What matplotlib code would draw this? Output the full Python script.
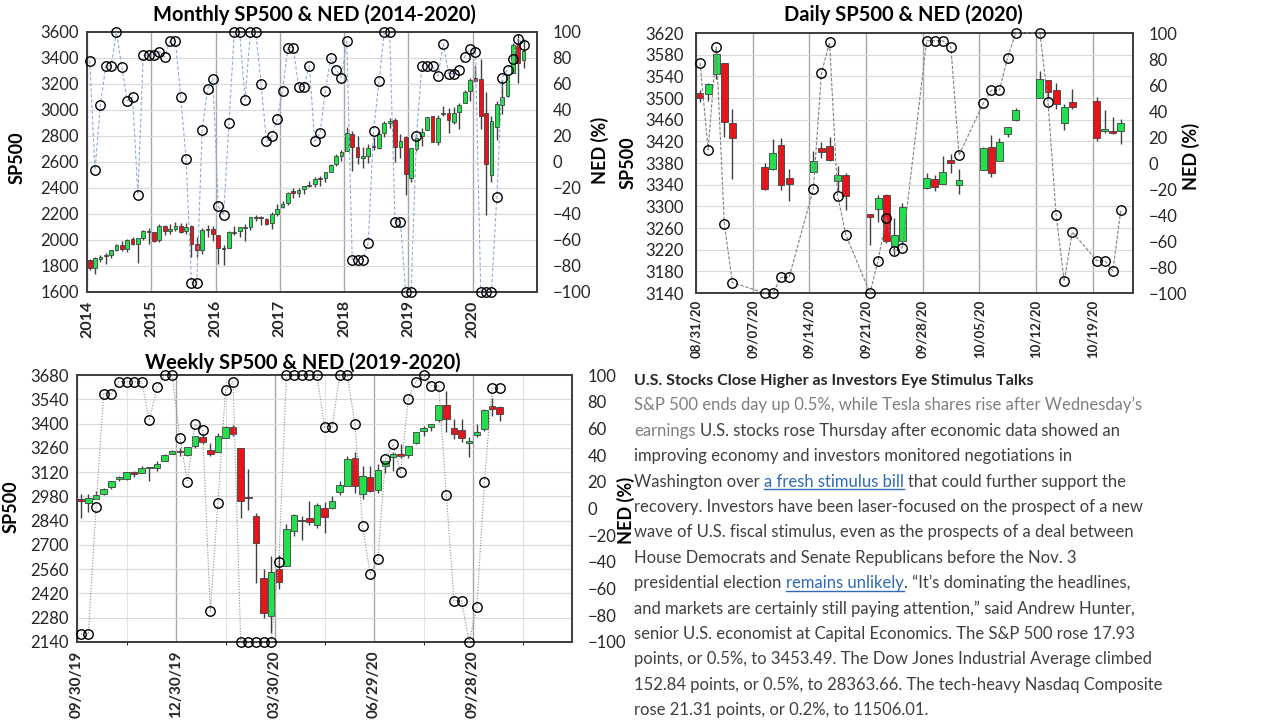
import numpy as np
import pandas as pd
import matplotlib
matplotlib.use("Agg")
import matplotlib.pyplot as plt
from matplotlib.lines import Line2D

plt.rcParams['font.family'] = ['Lato', 'DejaVu Sans']

# ---------------- monthly SP500 (Jan 2014 - Oct 2020) ----------------
m_years = ['2014', '2015', '2016', '2017', '2018', '2019', '2020']
m_open = [1845.86, 1782.68, 1857.68, 1873.96, 1884.66, 1923.87, 1962.29, 1929.80, 2004.07, 1971.44, 2018.21, 2065.78,
          2058.90, 1996.67, 2105.23, 2067.63, 2087.38, 2108.64, 2067.00, 2104.49, 1970.09, 1919.65, 2080.76, 2082.93,
          2038.20, 1936.94, 1937.09, 2056.62, 2067.17, 2093.94, 2099.34, 2173.15, 2170.06, 2164.33, 2128.68, 2200.17,
          2251.57, 2285.59, 2380.13, 2362.34, 2388.50, 2415.65, 2431.39, 2477.10, 2474.42, 2521.20, 2583.21, 2645.10,
          2683.73, 2816.45, 2715.22, 2633.45, 2642.96, 2718.70, 2704.95, 2821.17, 2896.96, 2926.29, 2717.58, 2790.50,
          2476.96, 2702.32, 2798.22, 2848.63, 2952.33, 2751.53, 2971.41, 2980.32, 2909.01, 2983.69, 3050.72, 3143.85,
          3244.67, 3235.66, 2974.28, 2498.08, 2869.09, 3038.78, 3105.92, 3288.26, 3507.44, 3385.87]
m_high = [1850.84, 1867.92, 1883.97, 1897.28, 1924.03, 1968.17, 1991.39, 2005.04, 2019.26, 2018.19, 2075.76, 2093.55,
          2064.43, 2119.59, 2117.52, 2125.92, 2134.72, 2129.87, 2132.82, 2112.66, 2020.86, 2094.32, 2116.48, 2104.27,
          2038.20, 1962.96, 2072.21, 2111.05, 2103.48, 2120.55, 2177.09, 2193.81, 2187.87, 2169.60, 2214.10, 2277.53,
          2300.99, 2371.54, 2400.98, 2398.16, 2418.71, 2453.82, 2484.04, 2490.87, 2519.44, 2582.98, 2657.74, 2694.97,
          2872.87, 2835.96, 2801.90, 2717.49, 2742.24, 2791.47, 2848.03, 2916.50, 2940.91, 2939.86, 2815.15, 2800.18,
          2708.95, 2813.49, 2860.31, 2949.52, 2954.13, 2964.15, 3027.98, 3013.59, 3021.99, 3050.10, 3154.26, 3247.93,
          3337.77, 3393.52, 3136.72, 2954.86, 3068.67, 3233.13, 3279.99, 3514.77, 3588.11, 3549.85]
m_low = [1770.45, 1737.92, 1834.44, 1814.36, 1862.36, 1915.98, 1916.13, 1904.78, 1964.04, 1820.66, 2001.01, 1972.56,
         1988.12, 1980.90, 2039.69, 2048.38, 2067.93, 2056.32, 2044.02, 1867.01, 1871.91, 1893.70, 2019.39, 1993.26,
         1812.29, 1810.10, 1937.09, 2039.45, 2025.91, 1991.68, 2074.02, 2147.58, 2119.12, 2114.72, 2083.79, 2187.87,
         2245.13, 2271.65, 2322.25, 2328.95, 2352.72, 2405.70, 2407.70, 2417.35, 2446.55, 2520.40, 2566.33, 2605.52,
         2682.36, 2532.69, 2585.89, 2553.80, 2594.62, 2691.99, 2698.95, 2795.14, 2864.12, 2603.54, 2631.09, 2346.58,
         2443.96, 2681.83, 2722.27, 2848.63, 2750.52, 2728.81, 2952.22, 2822.12, 2891.85, 2855.94, 3050.72, 3070.33,
         3214.64, 2855.84, 2191.86, 2447.49, 2766.64, 2965.66, 3101.17, 3284.53, 3209.45, 3323.69]
m_close = [1782.59, 1859.45, 1872.34, 1883.95, 1923.57, 1960.23, 1930.67, 2003.37, 1972.29, 2018.05, 2067.56, 2058.90,
           1994.99, 2104.50, 2067.89, 2085.51, 2107.39, 2063.11, 2103.84, 1972.18, 1920.03, 2079.36, 2080.41, 2043.94,
           1940.24, 1932.23, 2059.74, 2065.30, 2096.95, 2098.86, 2173.60, 2170.95, 2168.27, 2126.15, 2198.81, 2238.83,
           2278.87, 2363.64, 2362.72, 2384.20, 2411.80, 2423.41, 2470.30, 2471.65, 2519.36, 2575.26, 2647.58, 2673.61,
           2823.81, 2713.83, 2640.87, 2648.05, 2705.27, 2718.37, 2816.29, 2901.52, 2913.98, 2711.74, 2760.17, 2506.85,
           2704.10, 2784.49, 2834.40, 2945.83, 2752.06, 2941.76, 2980.38, 2926.46, 2976.74, 3037.56, 3140.98, 3230.78,
           3225.52, 2954.22, 2584.59, 2912.43, 3044.31, 3100.29, 3271.12, 3500.31, 3363.00, 3453.49]
m_ned = [78, -6, 44, 74, 74, 100, 73, 47, 50, -25, 82, 82,
         82, 85, 81, 93, 93, 50, 2, -93, -93, 25, 56, 64,
         -34, -41, 30, 100, 100, 48, 100, 100, 60, 16, 20, 33,
         55, 88, 88, 58, 58, 74, 16, 22, 55, 80, 71, 65,
         93, -75, -75, -75, -62, 24, 62, 100, 100, -46, -46, -100,
         -100, 20, 74, 74, 74, 66, 91, 68, 68, 71, 81, 87,
         85, -100, -100, -100, -27, 65, 71, 79, 95, 90]

# ---------------- daily SP500 (Aug 31 - Oct 22, 2020) ----------------
d_dates = ['2020-08-31', '2020-09-01', '2020-09-02', '2020-09-03', '2020-09-04',
           '2020-09-08', '2020-09-09', '2020-09-10', '2020-09-11',
           '2020-09-14', '2020-09-15', '2020-09-16', '2020-09-17', '2020-09-18',
           '2020-09-21', '2020-09-22', '2020-09-23', '2020-09-24', '2020-09-25',
           '2020-09-28', '2020-09-29', '2020-09-30', '2020-10-01', '2020-10-02',
           '2020-10-05', '2020-10-06', '2020-10-07', '2020-10-08', '2020-10-09',
           '2020-10-12', '2020-10-13', '2020-10-14', '2020-10-15', '2020-10-16',
           '2020-10-19', '2020-10-20', '2020-10-21', '2020-10-22']
d_open = [3509.73, 3507.44, 3543.76, 3564.74, 3453.60, 3371.88, 3369.82, 3412.56, 3352.70, 3363.56, 3407.73, 3411.23,
          3346.86, 3357.38, 3285.57, 3295.75, 3320.11, 3226.14, 3236.66, 3333.90, 3350.92, 3341.21, 3385.87, 3338.94,
          3367.27, 3408.74, 3384.56, 3434.28, 3459.67, 3500.02, 3534.01, 3515.47, 3453.72, 3493.50, 3493.66, 3439.38,
          3439.91, 3438.50]
d_high = [3514.77, 3528.03, 3588.11, 3564.85, 3479.15, 3379.97, 3424.77, 3425.55, 3368.95, 3402.93, 3419.48, 3428.92,
          3375.17, 3362.27, 3285.57, 3320.31, 3323.35, 3278.70, 3306.88, 3360.74, 3357.92, 3393.56, 3397.18, 3369.10,
          3409.57, 3431.56, 3426.26, 3447.28, 3482.34, 3549.85, 3534.01, 3527.94, 3489.08, 3515.76, 3502.42, 3476.93,
          3464.86, 3460.53]
d_low = [3493.25, 3494.60, 3535.23, 3427.41, 3349.63, 3329.27, 3366.84, 3329.25, 3310.47, 3363.56, 3389.25, 3384.45,
         3328.82, 3292.40, 3229.10, 3270.95, 3232.57, 3209.45, 3228.44, 3332.91, 3327.54, 3340.47, 3361.39, 3323.69,
         3367.27, 3354.54, 3384.56, 3428.15, 3458.07, 3499.61, 3500.86, 3480.55, 3440.89, 3480.45, 3419.93, 3435.65,
         3433.06, 3415.34]
d_close = [3500.31, 3526.65, 3580.84, 3455.06, 3426.96, 3331.84, 3398.96, 3339.19, 3340.97, 3383.54, 3401.20, 3385.49,
           3357.01, 3319.47, 3281.06, 3315.57, 3236.92, 3246.59, 3298.46, 3351.60, 3335.47, 3363.00, 3380.80, 3348.42,
           3408.60, 3360.97, 3419.44, 3446.83, 3477.14, 3534.22, 3511.93, 3488.67, 3483.34, 3483.81, 3426.92, 3443.12,
           3435.56, 3453.49]
d_ned = [77, 10, 89, -47, -92,
         -100, -100, -88, -88,
         -20, 69, 93, -25, -55,
         -100, -75, -42, -68, -65,
         94, 94, 94, 89, 6,
         46, 56, 56, 81, 100,
         100, 47, -40, -91, -53,
         -75, -75, -83, -36]

# ---------------- weekly SP500 (week of 09/30/19 - week of 10/19/20) ----------------
w_open = [2967.07, 2944.23, 2965.81, 2996.48, 3035.39, 3078.96, 3080.33, 3117.91, 3117.44, 3143.85,
          3141.86, 3183.63, 3225.45, 3240.09, 3217.55, 3271.13, 3321.03, 3247.16, 3235.66, 3318.28,
          3380.39, 3257.61, 2974.28, 2863.89, 2508.59, 2290.71, 2558.98, 2578.28, 2782.46, 2845.62,
          2854.65, 2815.01, 2915.46, 2913.86, 3004.08, 3038.78, 3199.92, 2993.76, 3094.42, 3018.59,
          3155.29, 3205.08, 3224.29, 3219.84, 3288.26, 3356.04, 3380.86, 3418.09, 3509.73, 3371.88,
          3363.56, 3285.57, 3333.90, 3367.27, 3500.02, 3493.66]
w_high = [2992.53, 2993.28, 3008.29, 3027.39, 3066.95, 3097.77, 3120.46, 3127.64, 3154.26, 3144.31,
          3182.68, 3225.65, 3247.93, 3258.14, 3267.07, 3329.88, 3337.77, 3285.91, 3347.96, 3385.09,
          3393.52, 3259.81, 3136.72, 2882.59, 2562.98, 2637.01, 2641.39, 2818.57, 2879.22, 2868.98,
          2954.86, 2944.25, 2945.82, 2980.29, 3068.67, 3211.72, 3233.13, 3155.53, 3155.53, 3165.81,
          3182.59, 3238.28, 3279.32, 3272.00, 3352.54, 3387.89, 3399.54, 3509.23, 3588.11, 3425.55,
          3428.92, 3323.35, 3397.18, 3482.34, 3549.85, 3502.42]
w_low = [2855.94, 2891.00, 2962.00, 2990.00, 3023.19, 3066.00, 3075.00, 3090.70, 3115.44, 3070.33,
         3129.00, 3183.00, 3226.00, 3212.03, 3213.32, 3260.01, 3281.53, 3214.64, 3235.00, 3315.19,
         3328.45, 2855.84, 2901.54, 2478.86, 2280.52, 2191.86, 2447.49, 2578.28, 2752.00, 2727.10,
         2815.00, 2797.85, 2766.64, 2910.00, 2985.00, 3038.78, 2999.00, 2965.66, 3007.00, 3000.00,
         3115.00, 3127.66, 3200.00, 3204.00, 3284.53, 3327.09, 3354.69, 3410.00, 3349.63, 3310.47,
         3292.40, 3209.45, 3323.69, 3354.54, 3440.89, 3415.34]
w_close = [2952.01, 2970.27, 2986.20, 3022.55, 3066.91, 3093.08, 3120.46, 3110.29, 3140.98, 3145.91,
           3168.80, 3221.22, 3240.02, 3234.85, 3265.35, 3329.62, 3295.47, 3225.52, 3327.71, 3380.16,
           3337.75, 2954.22, 2972.37, 2711.02, 2304.92, 2541.47, 2488.65, 2789.82, 2874.56, 2836.74,
           2830.71, 2929.80, 2863.70, 2955.45, 3044.31, 3193.93, 3041.31, 3097.74, 3009.05, 3130.01,
           3185.04, 3224.73, 3215.63, 3271.12, 3351.28, 3372.85, 3397.16, 3508.01, 3426.96, 3340.97,
           3319.47, 3298.46, 3348.42, 3477.14, 3483.81, 3453.49]
w_ned = [-94, -94, 1, 86, 86, 95, 95, 95, 95, 66,
         91, 100, 100, 53, 20, 63, 59, -77, 4, 89,
         95, -100, -100, -100, -100, -100, -40, 100, 100, 100,
         100, 100, 61, 61, 100, 100, 63, -13, -49, -38,
         37, 48, 27, 82, 95, 100, 92, 92, 10, -69,
         -69, -100, -74, 20, 90, 90]

# ---------------- news text ----------------
news_lines = [
    [("U.S. Stocks Close Higher as Investors Eye Stimulus Talks", "head")],
    [("S&P 500 ends day up 0.5%, while Tesla shares rise after Wednesday’s", "sub")],
    [("earnings", "sub"), (" U.S. stocks rose Thursday after economic data showed an", "body")],
    [("improving economy and investors monitored negotiations in", "body")],
    [("Washington over ", "body"), ("a fresh stimulus bill", "link"), (" that could further support the", "body")],
    [("recovery. Investors have been laser-focused on the prospect of a new", "body")],
    [("wave of U.S. fiscal stimulus, even as the prospects of a deal between", "body")],
    [("House Democrats and Senate Republicans before the Nov. 3", "body")],
    [("presidential election ", "body"), ("remains unlikely", "link"), (". “It’s dominating the headlines,", "body")],
    [("and markets are certainly still paying attention,” said Andrew Hunter,", "body")],
    [("senior U.S. economist at Capital Economics. The S&P 500 rose 17.93", "body")],
    [("points, or 0.5%, to 3453.49. The Dow Jones Industrial Average climbed", "body")],
    [("152.84 points, or 0.5%, to 28363.66. The tech-heavy Nasdaq Composite", "body")],
    [("rose 21.31 points, or 0.2%, to 11506.01.", "body")],
]

GREEN = '#22e04c'
RED = '#e8141c'
EDGE = '#404040'
W, H = 1280, 720


def px_rect(l, t, r, b):
    return [l / W, 1 - b / H, (r - l) / W, (b - t) / H]


def style(ax, pad=6):
    for s in ax.spines.values():
        s.set_color('#404040')
        s.set_linewidth(1.3)
    ax.tick_params(length=0, labelsize=12, colors='#262626', pad=pad)


def candles(ax, x, o, h, l, c, width, min_h):
    o, h, l, c = map(np.asarray, (o, h, l, c))
    colors = np.where(c >= o, GREEN, RED)
    ax.vlines(x, l, h, color='#404040', lw=1, zorder=2)
    bottom = np.minimum(o, c)
    height = np.maximum(np.abs(c - o), min_h)
    ax.bar(x, height, width, bottom=bottom, color=colors, edgecolor=EDGE, linewidth=0.6, zorder=3)


def ned(ax, x, vals, color, ls):
    ax2 = ax.twinx()
    ax2.plot(x, vals, ls=ls, color=color, lw=0.8, marker='o', ms=6.8, mfc='none',
             mec='black', mew=1, zorder=5, clip_on=False)
    ax2.set_ylim(-100, 100)
    ax2.set_yticks(range(-100, 101, 20))
    style(ax2, pad=11)
    return ax2


fig = plt.figure(figsize=(12.8, 7.2), dpi=100)

# ---- monthly ----
ax = fig.add_axes(px_rect(87, 32, 537, 292))
xm = np.arange(len(m_close)) + 0.5
candles(ax, xm, m_open, m_high, m_low, m_close, 0.7, 5)
ax.set_xlim(0, 84)
ax.set_ylim(1600, 3600)
ax.set_yticks(range(1600, 3601, 200))
ax.set_xticks(range(0, 84, 12))
style(ax)
ax.set_xticklabels(m_years, rotation=90, fontweight='bold', fontsize=11.5)
ax.yaxis.grid(True, color='#d9d9d9', lw=0.8)
ax.xaxis.grid(True, color='#a6a6a6', lw=1)
ax.set_axisbelow(True)
ned(ax, xm, m_ned, '#8eaadb', (0, (3, 2)))

# ---- daily ----
ax = fig.add_axes(px_rect(696, 33, 1133, 293))
d0 = pd.Timestamp('2020-08-31')
xd = (pd.to_datetime(d_dates) - d0).days.values + 0.5
candles(ax, xd, d_open, d_high, d_low, d_close, 0.85, 1.5)
ax.set_xlim(0, 54)
ax.set_ylim(3140, 3620)
ax.set_yticks(range(3140, 3621, 40))
ax.set_xticks(range(0, 54, 7))
style(ax, pad=9)
ax.tick_params(axis='x', pad=5)
ax.set_xticklabels(pd.date_range(d0, periods=8, freq='7D').strftime('%m/%d/%y'),
                   rotation=90, fontweight='bold', fontsize=9.5)
ax.yaxis.grid(True, color='#d9d9d9', lw=0.8)
ax.xaxis.grid(True, color='#a6a6a6', lw=1)
ax.set_axisbelow(True)
ned(ax, xd, d_ned, '#808080', (0, (3, 1.5)))

# ---- weekly ----
ax = fig.add_axes(px_rect(77, 375, 572, 642))
xw = np.arange(len(w_close)) + 0.5
candles(ax, xw, w_open, w_high, w_low, w_close, 0.85, 6)
ax.set_xlim(0, 65)
ax.set_ylim(2140, 3680)
ax.set_yticks(range(2140, 3681, 140))
ax.set_xticks(range(0, 65, 13))
ax.set_xticks(np.arange(6.5, 65, 13), minor=True)
style(ax)
w0 = pd.Timestamp('2019-09-30')
ax.set_xticklabels(pd.date_range(w0, periods=5, freq='91D').strftime('%m/%d/%y'),
                   rotation=90, fontweight='bold', fontsize=11)
ax.yaxis.grid(True, color='#d9d9d9', lw=0.8)
ax.xaxis.grid(True, which='major', color='#a6a6a6', lw=1)
ax.xaxis.grid(True, which='minor', color='#e3e3e3', lw=0.8)
ax.set_axisbelow(True)
ned(ax, xw, w_ned, '#8c8c8c', (0, (1, 1.5)))

# ---- titles and axis labels ----
def ftext(x, y, s, **kw):
    return fig.text(x / W, 1 - y / H, s, **kw)


ftext(314, 15, 'Monthly SP500 & NED (2014-2020)', ha='center', va='center', fontsize=14.5, fontweight='bold')
ftext(903, 15, 'Daily SP500 & NED (2020)', ha='center', va='center', fontsize=14.5, fontweight='bold')
ftext(303, 363, 'Weekly SP500 & NED (2019-2020)', ha='center', va='center', fontsize=14.5, fontweight='bold')
lab = dict(rotation=90, ha='center', va='center', fontsize=13, fontweight='bold')
ftext(17, 158, 'SP500', **lab)
ftext(600, 150, 'NED (%)', **lab)
ftext(628, 163, 'SP500', **lab)
ftext(1191, 156, 'NED (%)', **lab)
ftext(11, 507, 'SP500', **lab)
ftext(626, 510, 'NED (%)', **lab)

# ---- news block ----
colors = {'head': '#262626', 'sub': '#7f7f7f', 'body': '#404040', 'link': '#2e6ab5'}
sizes = {'head': 11.5, 'sub': 12, 'body': 12, 'link': 12}
renderer = fig.canvas.get_renderer()


def width_of(s, weight):
    t = fig.text(0, 0, s, fontsize=12, fontweight=weight)
    w = t.get_window_extent(renderer).width
    t.remove()
    return w


space_w = width_of('a a', 'normal') - width_of('aa', 'normal')
x0, y0, dy = 634, 385, 25.4
for i, segs in enumerate(news_lines):
    x = x0
    yb = y0 + i * dy
    for s, kind in segs:
        weight = 'bold' if kind == 'head' else 'normal'
        core = s.strip(' ')
        lead = len(s) - len(s.lstrip(' '))
        trail = len(s) - len(s.rstrip(' '))
        x += lead * space_w
        t = ftext(x, yb, core, ha='left', va='baseline', fontsize=sizes[kind],
                  fontweight=weight, color=colors[kind])
        w = t.get_window_extent(renderer).width
        if kind == 'link':
            fig.add_artist(Line2D([x / W, (x + w) / W], [1 - (yb + 2.5) / H] * 2,
                                  color=colors[kind], lw=1))
        x += w + trail * space_w

fig.savefig('out.png', dpi=100)
